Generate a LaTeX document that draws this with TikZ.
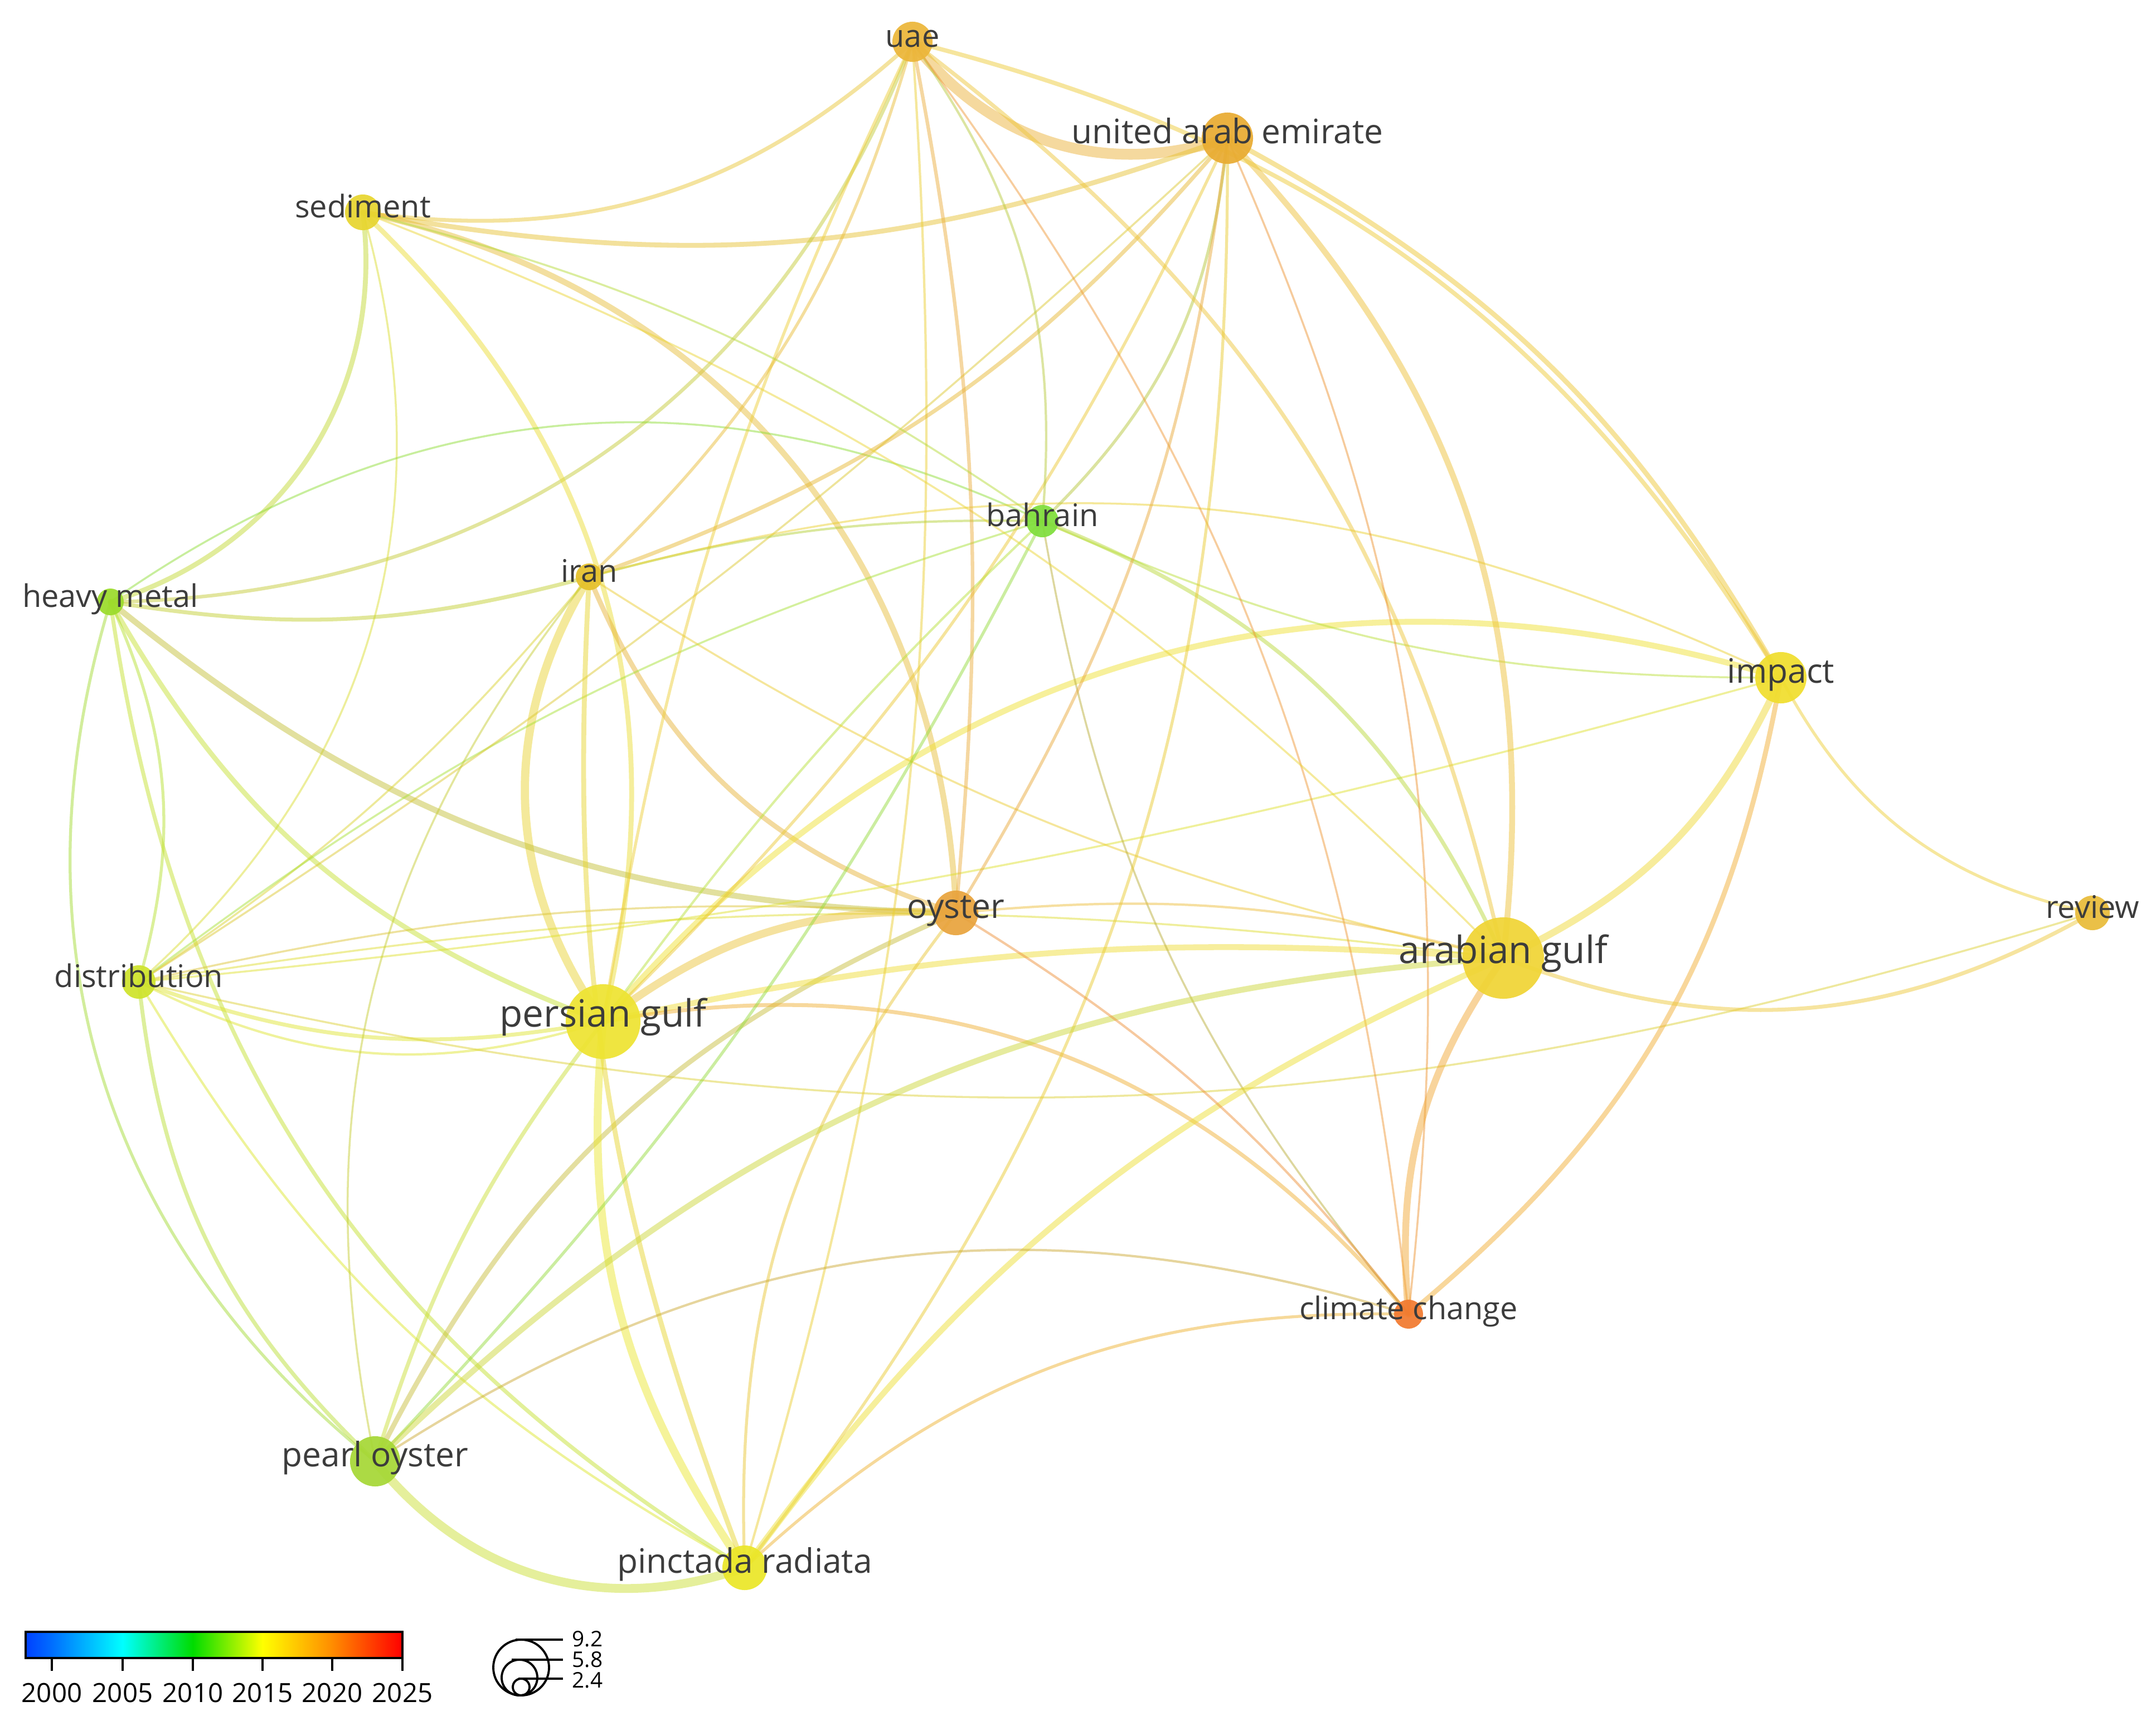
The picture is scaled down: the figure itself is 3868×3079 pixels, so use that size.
\documentclass[tikz,border=0pt]{standalone}
\usepackage{fontspec}
\setmainfont{Open Sans}
\pgfdeclarelayer{bottom}
\pgfdeclarelayer{background}
\pgfsetlayers{bottom,background,main}
\definecolor{cu}{HTML}{ECB63A}
\definecolor{cua}{HTML}{E9AC32}
\definecolor{csed}{HTML}{E8D630}
\definecolor{cbah}{HTML}{80DE3C}
\definecolor{chm}{HTML}{9CDC2C}
\definecolor{cir}{HTML}{E6C12C}
\definecolor{cimp}{HTML}{F0DE2E}
\definecolor{coy}{HTML}{E9A43E}
\definecolor{crev}{HTML}{E9BC3A}
\definecolor{cag}{HTML}{F0D535}
\definecolor{cdis}{HTML}{CFE42C}
\definecolor{cpg}{HTML}{EEE432}
\definecolor{ccc}{HTML}{F27A30}
\definecolor{cpo}{HTML}{A6D836}
\definecolor{cpr}{HTML}{EBE728}
\definecolor{labc}{HTML}{3C3C3C}
\tikzset{
  kw/.style={circle,inner sep=0pt,minimum size=#1,fill opacity=0.93},
  lab/.style={text=labc,inner sep=0pt,text height=0.74em,text depth=0.22em},
  fbig/.style={font=\fontsize{19.2}{21}\selectfont},
  fmid/.style={font=\fontsize{17.2}{19}\selectfont},
  fsmall/.style={font=\fontsize{15.9}{18}\selectfont},
  edge/.style={draw opacity=0.48,line cap=round},
}
\newcommand{\lnk}[4]{\draw[edge,line width=#4pt,draw=c#1!50!c#2] (#1.center) to[bend left=#3] (#2.center);}
\begin{document}
\begin{tikzpicture}[x=0.01cm,y=0.01cm]
\useasboundingbox (0,0) rectangle (3868,-3079);
\begin{pgfonlayer}{bottom}
\fill[white] (0,0) rectangle (3868,-3079);
\end{pgfonlayer}
% nodes
\node[kw=0.72cm,fill=cu] (u) at (1637,-75) {};
\node[kw=0.92cm,fill=cua] (ua) at (2202,-248) {};
\node[kw=0.64cm,fill=csed] (sed) at (651,-381) {};
\node[kw=0.58cm,fill=cbah] (bah) at (1870,-935) {};
\node[kw=0.48cm,fill=chm] (hm) at (198,-1080) {};
\node[kw=0.48cm,fill=cir] (ir) at (1057,-1035) {};
\node[kw=0.92cm,fill=cimp] (imp) at (3195,-1216) {};
\node[kw=0.80cm,fill=coy] (oy) at (1715,-1638) {};
\node[kw=0.62cm,fill=crev] (rev) at (3754,-1638) {};
\node[kw=1.46cm,fill=cag] (ag) at (2697,-1719) {};
\node[kw=0.60cm,fill=cdis] (dis) at (249,-1762) {};
\node[kw=1.34cm,fill=cpg] (pg) at (1082,-1833) {};
\node[kw=0.52cm,fill=ccc] (cc) at (2527,-2358) {};
\node[kw=0.90cm,fill=cpo] (po) at (673,-2622) {};
\node[kw=0.80cm,fill=cpr] (pr) at (1336,-2813) {};
% edges
\begin{pgfonlayer}{background}
\lnk{u}{ua}{-35}{5.5}
\lnk{u}{imp}{22}{2.2}
\lnk{ua}{imp}{16}{2.5}
\lnk{sed}{u}{-25}{2}
\lnk{sed}{ua}{-15}{2.5}
\lnk{hm}{sed}{-40}{2.5}
\lnk{hm}{u}{-34}{1.8}
\lnk{sed}{dis}{32}{1}
\lnk{sed}{pg}{30}{2.5}
\lnk{sed}{oy}{38}{3}
\lnk{ir}{pg}{-33}{4.2}
\lnk{ir}{oy}{-25}{2.5}
\lnk{hm}{ir}{-12}{2}
\lnk{hm}{bah}{30}{1}
\lnk{hm}{oy}{-19}{3}
\lnk{hm}{pg}{-20}{2.5}
\lnk{hm}{dis}{20}{1.5}
\lnk{hm}{po}{-34}{1.5}
\lnk{hm}{pr}{-25}{2}
\lnk{dis}{po}{-20}{2}
\lnk{dis}{pr}{-15}{1.2}
\lnk{dis}{pg}{-15}{2}
\lnk{dis}{pg}{-22}{1.2}
\lnk{rev}{dis}{15}{1}
\lnk{dis}{ir}{-8}{1}
\lnk{dis}{bah}{10}{1}
\lnk{dis}{oy}{8}{1}
\lnk{dis}{ua}{-5}{1}
\lnk{dis}{imp}{-5}{1}
\lnk{dis}{ag}{8}{1}
\lnk{pg}{oy}{20}{4}
\lnk{po}{oy}{20}{2.5}
\lnk{pg}{imp}{33}{3}
\lnk{pg}{ag}{8}{3}
\lnk{pg}{cc}{30}{2}
\lnk{pg}{pr}{-20}{4}
\lnk{ir}{pr}{-12}{2.5}
\lnk{po}{pg}{10}{2}
\lnk{pg}{ua}{-10}{1.5}
\lnk{pg}{bah}{5}{1.2}
\lnk{u}{pg}{-8}{1.5}
\lnk{u}{pr}{10}{1.2}
\lnk{ir}{u}{-15}{1.5}
\lnk{ir}{ua}{-15}{2}
\lnk{ir}{bah}{8}{1.2}
\lnk{ir}{imp}{20}{1}
\lnk{ir}{ag}{-10}{1}
\lnk{ir}{po}{-25}{1}
\lnk{bah}{u}{-20}{1.2}
\lnk{bah}{ua}{-20}{1.5}
\lnk{bah}{ag}{22}{2}
\lnk{bah}{cc}{-15}{1}
\lnk{bah}{imp}{-12}{1}
\lnk{bah}{po}{8}{1.5}
\lnk{ua}{ag}{25}{3}
\lnk{u}{ag}{20}{2}
\lnk{ua}{cc}{15}{1}
\lnk{u}{cc}{15}{1}
\lnk{ua}{oy}{12}{1.5}
\lnk{ua}{pr}{19}{1.5}
\lnk{oy}{pr}{-20}{1.5}
\lnk{imp}{ag}{20}{3.5}
\lnk{imp}{cc}{20}{2.5}
\lnk{imp}{rev}{-25}{1.5}
\lnk{ag}{rev}{-25}{2}
\lnk{ag}{cc}{-20}{3.5}
\lnk{po}{ag}{20}{3}
\lnk{pr}{ag}{15}{3}
\lnk{oy}{ag}{10}{1.2}
\lnk{sed}{ag}{12}{1}
\lnk{po}{cc}{25}{1.2}
\lnk{pr}{cc}{22}{1.5}
\lnk{oy}{cc}{10}{1.2}
\lnk{po}{pr}{-35}{4.5}
\lnk{u}{oy}{8}{1.8}
\lnk{sed}{bah}{10}{1}
\end{pgfonlayer}
% labels
\node[lab,fsmall] (u-l) at (u) {uae};
\node[lab,fmid] (ua-l) at (ua) {united arab emirate};
\node[lab,fsmall] (sed-l) at (sed) {sediment};
\node[lab,fsmall] (bah-l) at (bah) {bahrain};
\node[lab,fsmall] (hm-l) at (hm) {heavy metal};
\node[lab,fsmall] (ir-l) at (ir) {iran};
\node[lab,fmid] (imp-l) at (imp) {impact};
\node[lab,fmid] (oy-l) at (oy) {oyster};
\node[lab,fsmall] (rev-l) at (rev) {review};
\node[lab,fbig] (ag-l) at (ag) {arabian gulf};
\node[lab,fsmall] (dis-l) at (dis) {distribution};
\node[lab,fbig] (pg-l) at (pg) {persian gulf};
\node[lab,fsmall] (cc-l) at (cc) {climate change};
\node[lab,fmid] (po-l) at (po) {pearl oyster};
\node[lab,fmid] (pr-l) at (pr) {pinctada radiata};
% colour legend
\shade[left color={rgb,255:red,0;green,64;blue,255},right color={rgb,255:red,0;green,110;blue,255}] (46,-2928) rectangle (93,-2975);
\shade[left color={rgb,255:red,0;green,110;blue,255},right color={rgb,255:red,0;green,255;blue,255}] (93,-2928) rectangle (220,-2975);
\shade[left color={rgb,255:red,0;green,255;blue,255},right color={rgb,255:red,0;green,220;blue,0}] (220,-2928) rectangle (346,-2975);
\shade[left color={rgb,255:red,0;green,220;blue,0},right color={rgb,255:red,255;green,255;blue,0}] (346,-2928) rectangle (471,-2975);
\shade[left color={rgb,255:red,255;green,255;blue,0},right color={rgb,255:red,255;green,140;blue,0}] (471,-2928) rectangle (596,-2975);
\shade[left color={rgb,255:red,255;green,140;blue,0},right color={rgb,255:red,255;green,0;blue,0}] (596,-2928) rectangle (722,-2975);
\draw[line width=1.4pt] (46,-2928) rectangle (722,-2975);
\foreach \xx/\yr in {93/2000,220/2005,346/2010,471/2015,596/2020,722/2025}{
  \draw[line width=1.1pt] (\xx,-2975) -- (\xx,-2998);
  \node[inner sep=0pt,font=\fontsize{13.5}{15}\selectfont] (t\yr) at (\xx,-3037) {\yr};
}
% size legend
\draw[line width=1.1pt] (935,-2992) circle (50);
\draw[line width=1.1pt] (932,-3010) circle (32);
\draw[line width=1.1pt] (935,-3027) circle (15);
\draw[line width=1.1pt] (925,-2942) -- (1010,-2942);
\draw[line width=1.1pt] (918,-2978) -- (1010,-2978);
\draw[line width=1.1pt] (930,-3012) -- (1010,-3012);
\node[inner sep=0pt,anchor=west,font=\fontsize{11}{11}\selectfont] (s1) at (1026,-2941) {9.2};
\node[inner sep=0pt,anchor=west,font=\fontsize{11}{11}\selectfont] (s2) at (1026,-2978) {5.8};
\node[inner sep=0pt,anchor=west,font=\fontsize{11}{11}\selectfont] (s3) at (1026,-3015) {2.4};
\end{tikzpicture}
\end{document}
